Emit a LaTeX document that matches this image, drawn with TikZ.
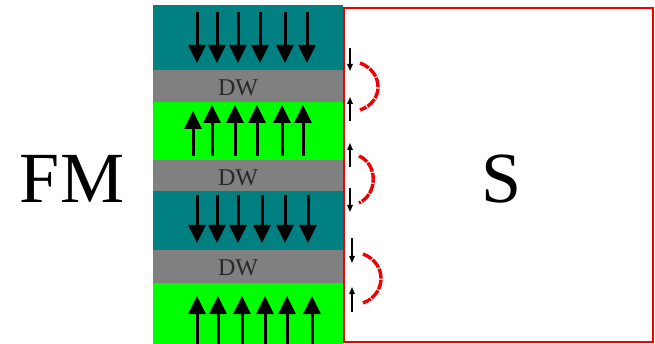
\documentclass[tikz,border=0pt]{standalone}
\usepackage{fontspec}
\setmainfont{Liberation Serif}
\usetikzlibrary{arrows.meta}
\definecolor{tealfm}{RGB}{0,128,128}
\definecolor{greenfm}{RGB}{0,255,0}
\definecolor{greydw}{RGB}{128,128,128}
\definecolor{redS}{RGB}{240,0,0}
\definecolor{dwtext}{RGB}{40,40,40}
\tikzset{
  layer/.style={draw=none,inner sep=0pt,minimum width=190pt,anchor=north west},
  bigarrow/.style={line width=3pt,-{Triangle[length=18pt,width=17pt]}},
  smallarrow/.style={line width=1.4pt,-{Triangle[length=7pt,width=5.5pt]}},
  loop/.style={draw=redS,line width=3.4pt,dash pattern={on 10pt off 1.2pt}},
  dwlabel/.style={text=dwtext,font=\fontsize{24}{26}\selectfont}
}
\begin{document}
\begin{tikzpicture}[x=1pt,y=-1pt]
\useasboundingbox (0,0) rectangle (655,344);
\fill[white] (0,0) rectangle (655,344);
% superconductor box
\node[draw=redS,line width=2.2pt,inner sep=0pt,minimum width=309pt,minimum height=334pt,anchor=north west] (S) at (343,7) {};
\node[font=\fontsize{72}{80}\selectfont,anchor=base] (Slab) at (502,203) {S};
% FM layers
\node[layer,fill=tealfm,minimum height=65pt] (t1) at (153,5) {};
\node[layer,fill=greydw,minimum height=32pt] (d1) at (153,70) {};
\node[layer,fill=greenfm,minimum height=58pt] (g1) at (153,102) {};
\node[layer,fill=greydw,minimum height=31pt] (d2) at (153,160) {};
\node[layer,fill=tealfm,minimum height=59pt] (t2) at (153,191) {};
\node[layer,fill=greydw,minimum height=33pt] (d3) at (153,250) {};
\node[layer,fill=greenfm,minimum height=62pt] (g2) at (153,283) {};
\node[dwlabel] (dw1) at (238,88) {DW};
\node[dwlabel] (dw2) at (238,178) {DW};
\node[dwlabel] (dw3) at (238,268) {DW};
\node[font=\fontsize{72}{80}\selectfont,anchor=base] (FM) at (72,203) {FM};
% big arrows
\foreach \x in {197,217,238,260,285,307} \draw[bigarrow] (\x,12) -- (\x,63);
\draw[bigarrow] (193,156) -- (193,111);
\foreach \x in {212,235,257,282,303} \draw[bigarrow] (\x,156) -- (\x,105);
\foreach \x in {197,217,238,262,285,308} \draw[bigarrow] (\x,195) -- (\x,243);
\foreach \x in {197,218,242,265,287,312} \draw[bigarrow] (\x,346) -- (\x,296);
% small arrows at the interface
\draw[smallarrow] (350,48) -- (350,71);
\draw[smallarrow] (350,121) -- (350,97);
\draw[smallarrow] (350,167) -- (350,143);
\draw[smallarrow] (350,188) -- (350,212);
\draw[smallarrow] (352,238) -- (352,263);
\draw[smallarrow] (352,312) -- (352,287);
% red loops
\draw[loop] (360,63) .. controls (384,72) and (384,102) .. (360,110);
\draw[loop] (359,156) .. controls (378,164) and (378,194) .. (359,203);
\draw[loop] (363,254) .. controls (387,263) and (387,294) .. (363,303);
\end{tikzpicture}
\end{document}
